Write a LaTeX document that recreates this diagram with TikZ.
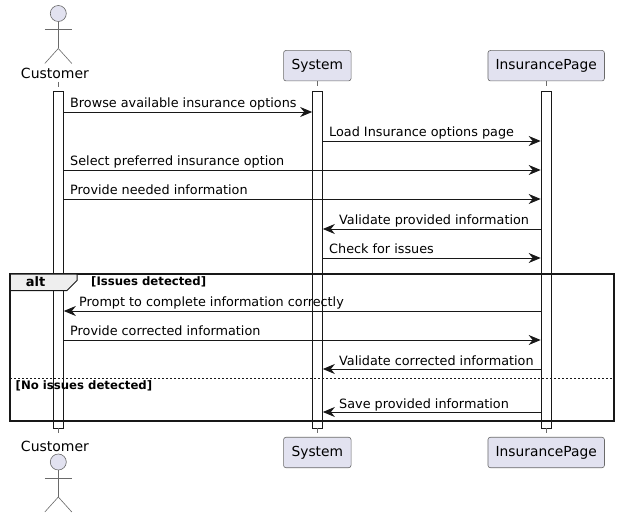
\documentclass[tikz,border=0pt]{standalone}
\usepackage{fontspec}
\setmainfont{DejaVu Sans}
\usetikzlibrary{arrows.meta}
\definecolor{pfill}{HTML}{E2E2F0}
\definecolor{ink}{HTML}{181818}
\definecolor{soft}{HTML}{6A6A6A}
\definecolor{tabfill}{HTML}{EEEEEE}
\tikzset{
  participantbox/.style={draw=soft,line width=0.6pt,fill=pfill,rounded corners=2.5pt,minimum height=30.5pt,inner sep=0pt,font=\fontsize{13.8}{15}\selectfont},
  actorlabel/.style={inner sep=0pt,font=\fontsize{14}{15}\selectfont},
  actorline/.style={draw=soft,line width=0.6pt},
  actorhead/.style={circle,draw=soft,line width=0.6pt,fill=pfill,minimum size=16pt,inner sep=0pt},
  lifeline/.style={draw=soft,line width=0.6pt,dash pattern=on 5pt off 5pt},
  activation/.style={draw=ink,fill=white,line width=0.7pt,minimum width=10pt,inner sep=0pt},
  msg/.style={draw=ink,line width=0.8pt,-{Stealth[length=12pt,width=10pt,inset=4pt,color=ink]}},
  msgtext/.style={anchor=base west,inner sep=0pt,font=\fontsize{12.8}{15}\selectfont},
  guardtext/.style={anchor=base west,inner sep=0pt,font=\fontsize{11.7}{13}\selectfont\bfseries},
}
\newcommand{\drawactor}[3]{%
  % #1 name prefix, #2 x, #3 head centre y
  \node[actorhead] (#1head) at (#2,#3) {};
  \coordinate (#1hip) at (#2,#3+35);
  \coordinate (#1ll) at (#2-13.5,#3+50);
  \coordinate (#1lr) at (#2+13.5,#3+50);
  \coordinate (#1al) at (#2-13.5,#3+16);
  \coordinate (#1ar) at (#2+13.5,#3+16);
  \draw[actorline] (#1head.south) -- (#1hip);
  \draw[actorline] (#1al) -- (#1ar);
  \draw[actorline] (#1ll) -- (#1hip) -- (#1lr);
}
\begin{document}
\begin{tikzpicture}[x=1pt,y=-1pt]
\useasboundingbox[fill=white] (0,0) rectangle (620,518);

% lifeline stubs and activation bars
\node[activation,minimum height=337pt] (cbar) at (58.5,259.5) {};
\node[activation,minimum height=337pt] (sbar) at (317.5,259.5) {};
\node[activation,minimum height=337pt] (ibar) at (546,259.5) {};

% heads
\drawactor{top}{58.3}{13.5}
\node[actorlabel] (ctop) at (55,73) {Customer};
\node[participantbox,minimum width=67.5pt] (stop) at (317.3,65.7) {System};
\node[participantbox,minimum width=116.5pt] (itop) at (546.2,65.7) {InsurancePage};

\drawactor{bot}{58.3}{462}
\node[actorlabel] (cbot) at (55,446) {Customer};
\node[participantbox,minimum width=67.5pt] (sbot) at (317.3,452.5) {System};
\node[participantbox,minimum width=116.5pt] (ibot) at (546.2,452.5) {InsurancePage};

\coordinate (ctopstub) at (58.5,82);
\coordinate (cbotstub) at (58.5,437);
\draw[lifeline] (ctopstub) -- (cbar.north);
\draw[lifeline] (stop.south -| sbar.north) -- (sbar.north);
\draw[lifeline] (itop.south -| ibar.north) -- (ibar.north);
\draw[lifeline] (cbar.south) -- (cbotstub);
\draw[lifeline] (sbar.south) -- (sbot.north -| sbar.south);
\draw[lifeline] (ibar.south) -- (ibot.north -| ibar.south);

% message rows
\foreach \n/\y in {a/112,b/141,c/170,d/199,e/229,f/258,g/311,h/340,j/369,k/412}
  \coordinate (m\n) at (0,\y);

\draw[msg] (cbar.east |- ma) -- (sbar.west |- ma);
\draw[msg] (sbar.east |- mb) -- (ibar.west |- mb);
\draw[msg] (cbar.east |- mc) -- (ibar.west |- mc);
\draw[msg] (cbar.east |- md) -- (ibar.west |- md);
\draw[msg] (ibar.west |- me) -- (sbar.east |- me);
\draw[msg] (sbar.east |- mf) -- (ibar.west |- mf);
\draw[msg] (ibar.west |- mg) -- (cbar.east |- mg);
\draw[msg] (cbar.east |- mh) -- (ibar.west |- mh);
\draw[msg] (ibar.west |- mj) -- (sbar.east |- mj);
\draw[msg] (ibar.west |- mk) -- (sbar.east |- mk);

\node[msgtext] (ta) at (70,107.5) {Browse available insurance options};
\node[msgtext] (tb) at (329,136.5) {Load Insurance options page};
\node[msgtext] (tc) at (70,165.5) {Select preferred insurance option};
\node[msgtext] (td) at (70,194.5) {Provide needed information};
\node[msgtext] (te) at (339,224.5) {Validate provided information};
\node[msgtext] (tf) at (329,253.5) {Check for issues};
\node[msgtext] (tg) at (79,306.5) {Prompt to complete information correctly};
\node[msgtext] (th) at (70,335.5) {Provide corrected information};
\node[msgtext] (tj) at (339,365) {Validate corrected information};
\node[msgtext] (tk) at (339,408) {Save provided information};

% alt frame
\draw[ink,line width=2.2pt] (10.3,274) rectangle (614,421.2);
\draw[ink,line width=1pt,fill=tabfill] (10.3,274) -- (77,274) -- (77,280.5) -- (67,290.5) -- (10.3,290.5) -- cycle;
\node[inner sep=0pt,anchor=base,font=\fontsize{13}{15}\selectfont\bfseries] (alttext) at (35.5,286) {alt};
\node[guardtext] (g1) at (91,285) {[Issues detected]};
\draw[ink,line width=0.6pt,dash pattern=on 2pt off 2pt] (10.3,378.5) -- (614,378.5);
\node[guardtext] (g2) at (15.5,389) {[No issues detected]};
\end{tikzpicture}
\end{document}
